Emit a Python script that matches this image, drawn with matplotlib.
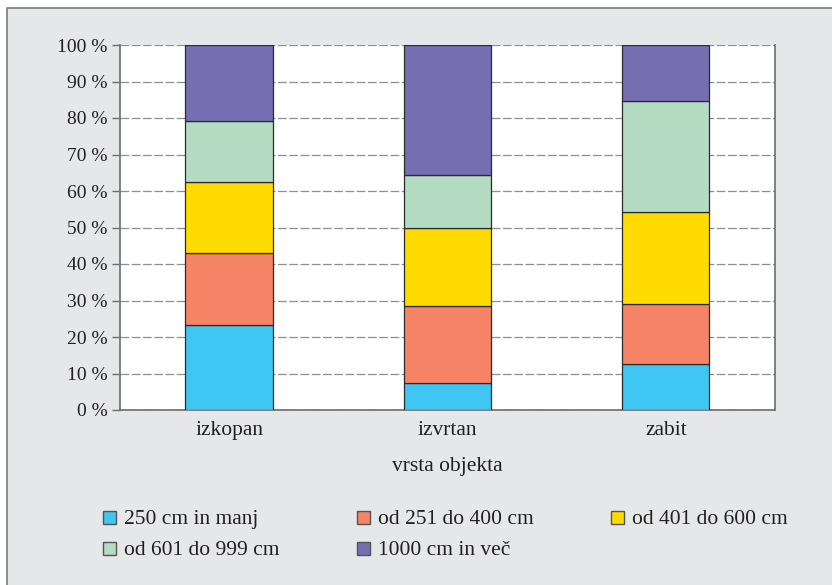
import matplotlib
matplotlib.use('Agg')
import matplotlib.pyplot as plt
from matplotlib.patches import Rectangle
from matplotlib.lines import Line2D
import numpy as np

plt.rcParams['font.family'] = ['Liberation Serif', 'DejaVu Serif']

categories = ['izkopan', 'izvrtan', 'zabit']
series_names = ['250 cm in manj', 'od 251 do 400 cm', 'od 401 do 600 cm',
                'od 601 do 999 cm', '1000 cm in več']
# share (%) of each depth class per object type
do_250   = [23.3,  7.3, 12.7]
do_400   = [19.7, 21.2, 16.3]
do_600   = [19.5, 21.5, 25.2]
do_999   = [16.7, 14.4, 30.5]
nad_1000 = [20.8, 35.6, 15.3]
series = [do_250, do_400, do_600, do_999, nad_1000]
colors = ['#40C6F2', '#F58466', '#FFDB00', '#B3DCC2', '#756FB1']
yticks = np.arange(0, 101, 10)
ylabels = ['%d %%' % v for v in yticks]

bg = '#E6E7E8'
txt = '#231f20'
W, H = 832, 585
fig = plt.figure(figsize=(W/100, H/100), dpi=100)
fig.patch.set_facecolor('white')
# grey panel behind everything, with a frame line on the left and top only
fig.patches.append(Rectangle((7/W, 0), 1, 1 - 8/H, transform=fig.transFigure,
                             facecolor=bg, edgecolor='none', zorder=-10))
fig.lines.append(Line2D([7/W, 7/W, 1], [0, 1 - 8/H, 1 - 8/H], transform=fig.transFigure,
                        color='#7a7a7a', linewidth=1.2))

ax = fig.add_axes([120/W, 175/H, 655/W, 365/H])
ax.set_facecolor('white')

x = np.arange(len(categories)) + 0.5
bottom = np.zeros(len(categories))
for vals, col in zip(series, colors):
    ax.bar(x, vals, width=0.4, bottom=bottom, color=col, edgecolor='#2b2b2b',
           linewidth=0.9, zorder=3)
    bottom += np.array(vals)

ax.set_xlim(0, 3)
ax.set_ylim(0, 100)
ax.set_yticks(yticks)
ax.set_yticklabels(ylabels, fontsize=14, color=txt)
ax.set_xticks(x)
ax.set_xticklabels(categories, fontsize=15.5, color=txt)
ax.tick_params(axis='x', length=0, pad=8)
ax.tick_params(axis='y', length=6, width=1, color='#6d6d6d', pad=3)
ax.yaxis.grid(True, color='#8f8f8f', linestyle=(0, (7, 2)), linewidth=0.9, zorder=1)
ax.set_axisbelow(True)
for s in ['left', 'bottom', 'right']:
    ax.spines[s].set_color('#6d6d6d')
    ax.spines[s].set_linewidth(1.2)
ax.spines['top'].set_visible(False)
ax.set_xlabel('vrsta objekta', fontsize=15.5, color=txt, labelpad=12)

# legend laid out in fixed columns
col_x = [103, 357, 611]
row_y = [517, 548]
for i, (name, col) in enumerate(zip(series_names, colors)):
    cx = col_x[i % 3]
    cy = row_y[i // 3]
    fig.patches.append(Rectangle((cx/W, 1 - (cy + 7)/H), 13/W, 13/H,
                                 transform=fig.transFigure, facecolor=col,
                                 edgecolor='#555555', linewidth=1))
    fig.text((cx + 21)/W, 1 - (cy + 7)/H, name, fontsize=15.5, color=txt,
             va='baseline', ha='left')

fig.savefig('out.png', dpi=100, facecolor=fig.get_facecolor())
